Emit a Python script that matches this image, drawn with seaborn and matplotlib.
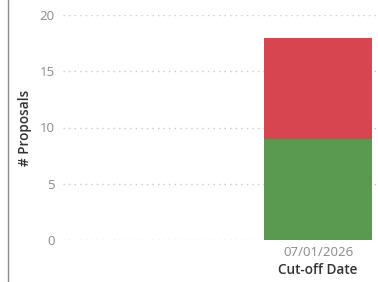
import matplotlib
matplotlib.use("Agg")
import matplotlib.pyplot as plt
import pandas as pd
import seaborn as sns
from matplotlib.lines import Line2D

#------Data------

cutoff_dates = ["07/01/2026"]
green_counts = [9]
red_counts = [9]

GREEN = "#5A9A50"
RED = "#D64550"

#------Plot------

sns.set_style("white")
plt.rcParams["font.family"] = ["Open Sans", "DejaVu Sans"]

df = pd.DataFrame({
    "date": cutoff_dates,
    "green": green_counts,
    "total": [g + r for g, r in zip(green_counts, red_counts)],
})

fig = plt.figure(figsize=(3.78, 2.82), dpi=100)
ax = fig.add_axes([63 / 378, 42 / 282, 315 / 378, 225 / 282])

# stacked bar: total in red, green drawn over it
sns.barplot(data=df, x="date", y="total", color=RED, saturation=1, width=0.8,
            linewidth=0, ax=ax)
sns.barplot(data=df, x="date", y="green", color=GREEN, saturation=1, width=0.8,
            linewidth=0, ax=ax)

ax.set_xlim(-1.889, 0.444)
ax.set_ylim(0, 20)
ax.set_yticks([0, 5, 10, 15, 20])
ax.yaxis.grid(True, linestyle=(0, (1, 3)), color="#C8C8C8", linewidth=1)
ax.set_axisbelow(True)
sns.despine(ax=ax, left=True, bottom=True)

ax.tick_params(axis="both", length=0, labelsize=9.5, colors="#8A8A8A", pad=6)
ax.tick_params(axis="x", pad=4)
ax.set_xlabel("Cut-off Date", fontsize=9.8, color="#333333", fontweight="semibold")
ax.set_ylabel("# Proposals", fontsize=9.8, color="#333333", fontweight="semibold")
ax.xaxis.set_label_coords((318 - 63) / 315, -23 / 225)
ax.yaxis.set_label_coords(-31 / 315, 0.5)

fig.add_artist(Line2D([7.5 / 378, 7.5 / 378], [0, 1], color="#8C8C8C", linewidth=1))

fig.savefig("out.png", dpi=100)
plt.close()
